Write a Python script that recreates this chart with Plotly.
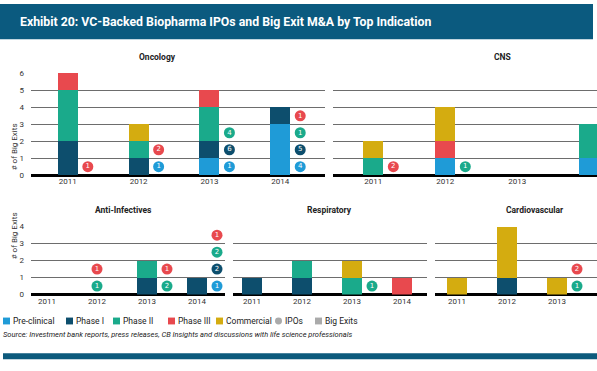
import plotly.graph_objects as go

W, H = 597, 371
FONT = "Roboto, Liberation Sans, sans-serif"

years = [2011, 2012, 2013, 2014]
cardio_years = [2011, 2012, 2013]
phases = ["Pre-clinical", "Phase I", "Phase II", "Phase III", "Commercial"]
colors = {"Pre-clinical": "#1f9bd7", "Phase I": "#0d4e6d", "Phase II": "#1aaa8b",
          "Phase III": "#e8494e", "Commercial": "#d4ac10"}

# Big exits (stacked bars) per panel, phase order bottom->top
onc_bars = {"Pre-clinical": [0, 0, 1, 3], "Phase I": [2, 1, 1, 1], "Phase II": [3, 1, 2, 0],
            "Phase III": [1, 0, 1, 0], "Commercial": [0, 1, 0, 0]}
cns_bars = {"Pre-clinical": [0, 1, 0, 1], "Phase I": [0, 0, 0, 0], "Phase II": [1, 0, 0, 2],
            "Phase III": [0, 1, 0, 0], "Commercial": [1, 2, 0, 0]}
anti_bars = {"Pre-clinical": [0, 0, 0, 0], "Phase I": [0, 0, 1, 1], "Phase II": [0, 0, 1, 0],
             "Phase III": [0, 0, 0, 0], "Commercial": [0, 0, 0, 0]}
resp_bars = {"Pre-clinical": [0, 0, 0, 0], "Phase I": [1, 1, 0, 0], "Phase II": [0, 1, 1, 0],
             "Phase III": [0, 0, 0, 1], "Commercial": [0, 0, 1, 0]}
cardio_bars = {"Pre-clinical": [0, 0, 0], "Phase I": [0, 1, 0], "Phase II": [0, 0, 0],
               "Phase III": [0, 0, 0], "Commercial": [1, 3, 1]}

# IPOs (numbered badges), listed bottom->top within each year
onc_ipo_year = [2011, 2012, 2012, 2013, 2013, 2013, 2014, 2014, 2014, 2014]
onc_ipo_phase = ["Phase III", "Pre-clinical", "Phase III", "Pre-clinical", "Phase I", "Phase II",
                 "Pre-clinical", "Phase I", "Phase II", "Phase III"]
onc_ipo_count = [1, 1, 2, 1, 6, 4, 4, 5, 1, 1]
cns_ipo_year = [2011, 2012]
cns_ipo_phase = ["Phase III", "Phase II"]
cns_ipo_count = [2, 1]
anti_ipo_year = [2012, 2012, 2013, 2013, 2014, 2014, 2014, 2014]
anti_ipo_phase = ["Phase II", "Phase III", "Phase II", "Phase III",
                  "Pre-clinical", "Phase I", "Phase II", "Phase III"]
anti_ipo_count = [1, 1, 2, 1, 1, 2, 2, 1]
resp_ipo_year = [2013]
resp_ipo_phase = ["Phase II"]
resp_ipo_count = [1]
cardio_ipo_year = [2013, 2013]
cardio_ipo_phase = ["Phase II", "Phase III"]
cardio_ipo_count = [1, 2]

panel_titles = ["Oncology", "CNS", "Anti-Infectives", "Respiratory", "Cardiovascular"]

# layout per panel: px-left, px-right, x range start, px per year, y-zero px, ymax, y labels, title x px
panels = [
    (onc_bars, years, (onc_ipo_year, onc_ipo_phase, onc_ipo_count), 31, 325, 2010.48, 70.8, 176, 6, True, 157),
    (cns_bars, years, (cns_ipo_year, cns_ipo_phase, cns_ipo_count), 333, 597, 2010.44, 72.0, 176, 6, False, 503),
    (anti_bars, years, (anti_ipo_year, anti_ipo_phase, anti_ipo_count), 31, 225, 2010.68, 50.0, 298, 4, True, 123),
    (resp_bars, years, (resp_ipo_year, resp_ipo_phase, resp_ipo_count), 233, 427, 2010.62, 50.0, 298, 4, False, 330),
    (cardio_bars, cardio_years, (cardio_ipo_year, cardio_ipo_phase, cardio_ipo_count), 435, 597, 2010.56, 50.0, 298, 4, False, 535),
]
UNIT = 17.35  # px per exit

fig = go.Figure()
layout = dict(width=W, height=H, margin=dict(l=0, r=0, t=0, b=0),
              plot_bgcolor="white", paper_bgcolor="white", barmode="stack",
              showlegend=False, font=dict(family=FONT, size=9, color="#333"))
annotations = []
shapes = []

for i, (title, (bars, cats, ipo, pxl, pxr, x0, ppu, ybot, ymax, ylabels, tx)) in enumerate(zip(panel_titles, panels), start=1):
    xa = "x" if i == 1 else f"x{i}"
    ya = "y" if i == 1 else f"y{i}"
    bw = 20.0 / ppu
    for ph in phases:
        fig.add_trace(go.Bar(x=cats, y=bars[ph], width=bw, marker=dict(color=colors[ph], line=dict(width=0)),
                             xaxis=xa, yaxis=ya, name=ph, hoverinfo="skip"))
    iy, iph, icnt = ipo
    totals = {c: sum(bars[ph][k] for ph in phases) for k, c in enumerate(cats)}
    seen = {}
    bx, by, bc, bt = [], [], [], []
    for yr, ph, n in zip(iy, iph, icnt):
        k = seen.get(yr, 0)
        seen[yr] = k + 1
        off = 20.0 / ppu if totals.get(yr, 0) > 0 else 0
        bx.append(yr + off)
        by.append(k + 0.5)
        bc.append(colors[ph])
        bt.append(str(n))
    fig.add_trace(go.Scatter(x=bx, y=by, mode="markers+text", text=bt, textposition="middle center",
                             textfont=dict(color="white", size=7, family="DejaVu Sans"),
                             marker=dict(size=11, color=bc, line=dict(width=0)),
                             xaxis=xa, yaxis=ya, hoverinfo="skip", cliponaxis=False))
    x1 = x0 + (pxr - pxl) / ppu
    yr_top = ymax + 0.05
    ytop_px = ybot - yr_top * UNIT
    layout["xaxis" if i == 1 else f"xaxis{i}"] = dict(
        domain=[pxl / W, pxr / W], range=[x0, x1], anchor=ya, tickmode="array",
        tickvals=cats, ticktext=[str(c) for c in cats], showgrid=False, zeroline=False,
        showline=False, ticks="", tickfont=dict(size=8, color="#333"), fixedrange=True)
    layout["yaxis" if i == 1 else f"yaxis{i}"] = dict(
        domain=[1 - ybot / H, 1 - ytop_px / H], range=[0, yr_top], anchor=xa, dtick=1,
        showgrid=True, gridcolor="#6d6d6d", gridwidth=1, zeroline=True, zerolinecolor="#000",
        zerolinewidth=2.5, showline=False, ticks="", showticklabels=ylabels,
        tickfont=dict(size=8, color="#333"), ticklabelstandoff=6, fixedrange=True)
    annotations.append(dict(text=f"<b>{title}</b>", x=tx / W,
                            y=1 - (ytop_px - 16) / H, xref="paper", yref="paper", showarrow=False,
                            font=dict(size=8.5, color="#222"), xanchor="center", yanchor="middle"))

# y-axis titles
for yc in (147, 264):
    annotations.append(dict(text="# of Big Exits", x=8 / W, y=1 - yc / H, xref="paper", yref="paper",
                            showarrow=False, textangle=-90, font=dict(size=8, color="#333")))

# header band
shapes.append(dict(type="rect", xref="paper", yref="paper", x0=0, x1=593 / W, y0=1 - 37 / H, y1=1 - 1 / H,
                   fillcolor="#0b5a7f", line=dict(width=0), layer="below"))
annotations.append(dict(text="<b>Exhibit 20: VC-Backed Biopharma IPOs and Big Exit M&A by Top Indication</b>",
                        x=18 / W, y=1 - 19 / H, xref="paper", yref="paper", showarrow=False,
                        xanchor="left", yanchor="middle", font=dict(size=12.3, color="white")))
# bottom band
shapes.append(dict(type="rect", xref="paper", yref="paper", x0=3 / W, x1=1, y0=1 - 364 / H, y1=1 - 358 / H,
                   fillcolor="#0d5a7c", line=dict(width=0)))

# legend (manual)
legend_items = [("Pre-clinical", colors["Pre-clinical"], "square", 3),
                ("Phase I", colors["Phase I"], "square", 66),
                ("Phase II", colors["Phase II"], "square", 113),
                ("Phase III", colors["Phase III"], "square", 168),
                ("Commercial", colors["Commercial"], "square", 216),
                ("IPOs", "#aaaaaa", "circle", 275),
                ("Big Exits", "#aaaaaa", "square", 315)]
ly = 325
for name, col, shp, lx in legend_items:
    shapes.append(dict(type="rect" if shp == "square" else "circle", xref="paper", yref="paper",
                       x0=lx / W, x1=(lx + 7) / W, y0=1 - (ly + 3.5) / H, y1=1 - (ly - 3.5) / H,
                       fillcolor=col, line=dict(width=0)))
    annotations.append(dict(text=name, x=(lx + 8) / W, y=1 - ly / H, xref="paper", yref="paper",
                            showarrow=False, xanchor="left", yanchor="middle",
                            font=dict(size=8.5, color="#222")))

annotations.append(dict(text="<i>Source: Investment bank reports, press releases, CB Insights and discussions with life science professionals</i>",
                        x=1 / W, y=1 - 339 / H, xref="paper", yref="paper", showarrow=False,
                        xanchor="left", yanchor="middle", font=dict(size=7.5, color="#222")))

layout["annotations"] = annotations
layout["shapes"] = shapes
fig.update_layout(**layout)
fig.write_html("out.html", config={"displayModeBar": False},
               post_script="document.body.style.margin='0';document.body.style.overflow='hidden';")
